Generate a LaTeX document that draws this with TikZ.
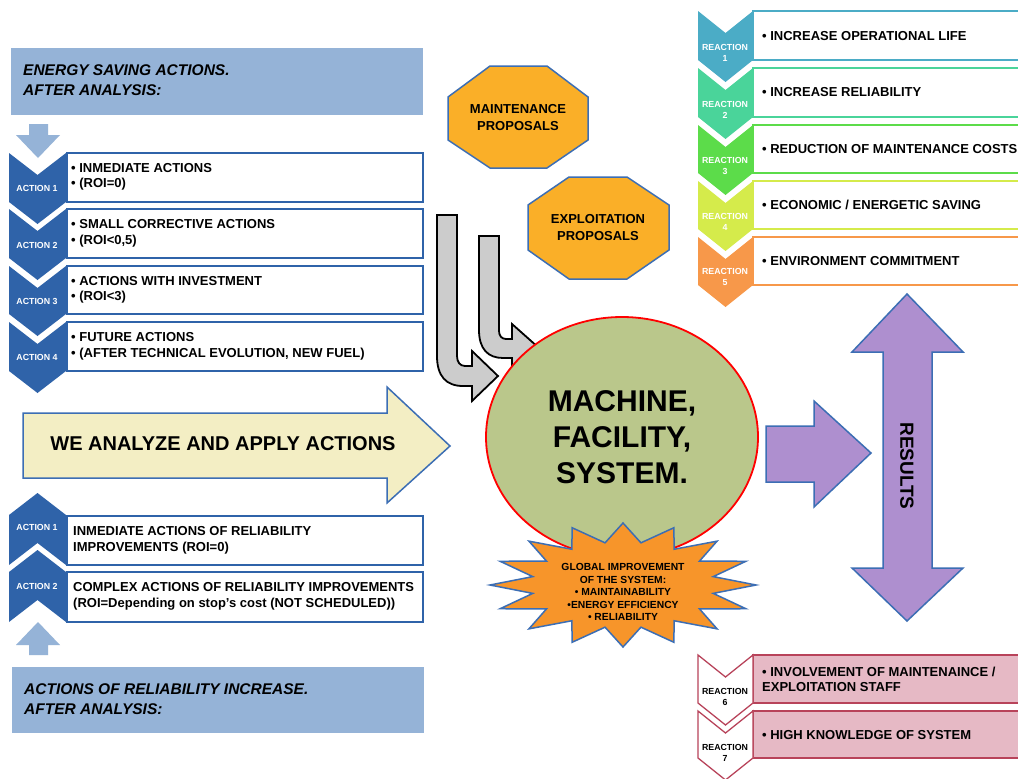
\documentclass[tikz,border=0pt]{standalone}
\usepackage{fontspec}
\setmainfont{Liberation Sans}
\usetikzlibrary{shapes.geometric}
\definecolor{hdrblue}{HTML}{95B3D7}
\definecolor{actblue}{HTML}{2F63A9}
\definecolor{lineblue}{HTML}{3C6EB4}
\definecolor{yelfill}{HTML}{F3EEC4}
\definecolor{octfill}{HTML}{FAAF28}
\definecolor{arrgray}{HTML}{CCCCCC}
\definecolor{ellfill}{HTML}{BAC78B}
\definecolor{starfill}{HTML}{F7952A}
\definecolor{purp}{HTML}{AE8FCF}
\definecolor{rca}{HTML}{4BACC6}
\definecolor{rcb}{HTML}{4AD49A}
\definecolor{rcc}{HTML}{5CDC4A}
\definecolor{rcd}{HTML}{D5EB4B}
\definecolor{rce}{HTML}{F7984A}
\definecolor{pinkfill}{HTML}{E6B9C5}
\definecolor{pinkline}{HTML}{B8435A}
\newcommand{\chevdown}[5]{\path[#1] (#2,#4) -- ({(#2+#3)/2},{#4+22}) -- (#3,#4) -- (#3,#5) -- ({(#2+#3)/2},{#5+22}) -- (#2,#5) -- cycle;}
\newcommand{\chevup}[5]{\path[#1] (#2,#4) -- ({(#2+#3)/2},{#4-22}) -- (#3,#4) -- (#3,#5) -- ({(#2+#3)/2},{#5-22}) -- (#2,#5) -- cycle;}
\begin{document}
\begin{tikzpicture}[x=1pt,y=-1pt,
  txt/.style={inner sep=0pt, font=\fontsize{13}{15.5}\selectfont\bfseries, align=left, anchor=west},
  hdrtxt/.style={inner sep=0pt, font=\fontsize{15.5}{19.5}\selectfont\bfseries\itshape, align=left, anchor=west},
  chevlbl/.style={inner sep=0pt, font=\fontsize{8.8}{11}\selectfont\bfseries, text=white, align=center},
  abox/.style={draw=actblue, line width=1.8pt, fill=white},
  octstyle/.style={draw=lineblue, line width=1.5pt, fill=octfill},
  octtxt/.style={inner sep=0pt, font=\fontsize{13}{17}\selectfont\bfseries, align=center},
  grayarr/.style={draw=black, line width=1.8pt, fill=arrgray, line join=miter},
  purpstyle/.style={draw=lineblue, line width=1.5pt, fill=purp},
  rbox/.style={line width=1.3pt, fill=white}
]
\useasboundingbox (0,0) rectangle (1018,779);
\fill[white] (0,0) rectangle (1018,779);

% ---- top left header
\fill[hdrblue] (11,48) rectangle (423,115);
\node[hdrtxt] (hdrtop) at (23,80) {ENERGY SAVING ACTIONS.\\AFTER ANALYSIS:};
\fill[hdrblue] (29,124) -- (48,124) -- (48,135) -- (60,135) -- (38,158) -- (16,135) -- (29,135) -- cycle;

% ---- action chevrons (top)
\draw[abox] (67,153) rectangle (423,202);
\draw[abox] (67,209) rectangle (423,258);
\draw[abox] (67,266) rectangle (423,314);
\draw[abox] (67,322) rectangle (423,371);
\chevdown{fill=actblue}{9}{66}{153}{202}
\chevdown{fill=actblue}{9}{66}{209}{258}
\chevdown{fill=actblue}{9}{66}{266}{314}
\chevdown{fill=actblue}{9}{66}{322}{371}
\node[chevlbl] (ca1) at (37,188) {ACTION 1};
\node[chevlbl] (ca2) at (37,245) {ACTION 2};
\node[chevlbl] (ca3) at (37,301) {ACTION 3};
\node[chevlbl] (ca4) at (37,357) {ACTION 4};
\node[txt] (ta1) at (71,177) {• INMEDIATE ACTIONS\\• (ROI=0)};
\node[txt] (ta2) at (71,233.5) {• SMALL CORRECTIVE ACTIONS\\• (ROI<0,5)};
\node[txt] (ta3) at (71,290) {• ACTIONS WITH INVESTMENT\\• (ROI<3)};
\node[txt] (ta4) at (71,346.5) {• FUTURE ACTIONS\\• (AFTER TECHNICAL EVOLUTION, NEW FUEL)};

% ---- yellow arrow
\draw[draw=lineblue, line width=1.5pt, fill=yelfill] (23,413) -- (387,413) -- (387,387) -- (450,446) -- (387,503) -- (387,478) -- (23,478) -- cycle;
\node[inner sep=0pt, font=\fontsize{20}{24}\selectfont\bfseries] (yarr) at (223,444) {WE ANALYZE AND APPLY ACTIONS};

% ---- bottom chevrons (up)
\draw[abox] (67,516) rectangle (423,565);
\draw[abox] (67,572) rectangle (423,622);
\chevup{fill=actblue}{9}{66}{515}{565}
\chevup{fill=actblue}{9}{66}{572}{622}
\node[chevlbl] (cb1) at (37,527) {ACTION 1};
\node[chevlbl] (cb2) at (37,586) {ACTION 2};
\node[txt] (tb1) at (73,540.5) {INMEDIATE ACTIONS OF RELIABILITY\\IMPROVEMENTS (ROI=0)};
\node[txt] (tb2) at (73,596.5) {COMPLEX ACTIONS OF RELIABILITY IMPROVEMENTS\\(ROI=Depending on stop’s cost (NOT SCHEDULED))};
\fill[hdrblue] (38,622) -- (60,645) -- (48,645) -- (48,655) -- (29,655) -- (29,645) -- (16,645) -- cycle;
\fill[hdrblue] (12,667) rectangle (424,733);
\node[hdrtxt] (hdrbot) at (24,699) {ACTIONS OF RELIABILITY INCREASE.\\AFTER ANALYSIS:};

% ---- octagons
\draw[octstyle] (490,66) -- (547,66) -- (588,97) -- (588,140) -- (547,168) -- (490,168) -- (448,140) -- (448,97) -- cycle;
\node[octtxt] (maint) at (518,118) {MAINTENANCE\\PROPOSALS};
\draw[octstyle] (569,177) -- (627,177) -- (669,205) -- (669,250) -- (627,279) -- (569,279) -- (528,250) -- (528,205) -- cycle;
\node[octtxt] (explo) at (598,228) {EXPLOITATION\\PROPOSALS};

% ---- gray bent arrows
\draw[grayarr] (437,215) -- (437,356) .. controls (437,376) and (446,386) .. (463,386) -- (472,386) -- (472,401) -- (498,376) -- (472,351) -- (472,366) -- (465,366) .. controls (460,366) and (457,362) .. (457,356) -- (457,215) -- cycle;
\draw[grayarr] (479,236) -- (479,330) .. controls (479,349) and (488,358) .. (503,358) -- (512,358) -- (512,373) -- (539,348) -- (512,324) -- (512,339) -- (506,339) .. controls (502,339) and (499,336) .. (499,331) -- (499,236) -- cycle;

% ---- machine ellipse
\node[ellipse, draw=red, line width=1.8pt, fill=ellfill, minimum width=272pt, minimum height=240pt, inner sep=0pt,
  font=\fontsize{30}{36}\selectfont\bfseries, align=center] (mach) at (622,437) {MACHINE,\\FACILITY,\\SYSTEM.};

% ---- star
\draw[draw=lineblue, line width=1.5pt, fill=starfill, line join=miter]
  (756,585) \foreach \i in {1,...,31} { -- ({623+(mod(\i,2)==0 ? 133 : 92)*cos(\i*11.25)}, {585+(mod(\i,2)==0 ? 62 : 43)*sin(\i*11.25)}) } -- cycle;
\node[inner sep=0pt, font=\fontsize{10.3}{12.5}\selectfont\bfseries, align=center] (glob) at (623,592)
  {GLOBAL IMPROVEMENT\\OF THE SYSTEM:\\• MAINTAINABILITY\\•ENERGY EFFICIENCY\\• RELIABILITY};

% ---- purple arrows
\draw[purpstyle] (766,426) -- (814,426) -- (814,401) -- (871,453) -- (814,507) -- (814,482) -- (766,482) -- cycle;
\draw[purpstyle] (907,294) -- (963,352) -- (932,352) -- (932,568) -- (963,568) -- (907,621) -- (852,568) -- (883,568) -- (883,352) -- (852,352) -- cycle;
\node[rotate=-90, inner sep=0pt, font=\fontsize{19}{19}\selectfont\bfseries] (res) at (907,466) {RESULTS};

% ---- reactions 1-5
\draw[rbox, draw=rca] (753,11) rectangle (1030,60);
\draw[rbox, draw=rcb] (753,68) rectangle (1030,117);
\draw[rbox, draw=rcc] (753,125) rectangle (1030,173);
\draw[rbox, draw=rcd] (753,181) rectangle (1030,229);
\draw[rbox, draw=rce] (753,237) rectangle (1030,285);
\chevdown{fill=rca}{698}{753}{11}{60}
\chevdown{fill=rcb}{698}{753}{68}{117}
\chevdown{fill=rcc}{698}{753}{125}{173}
\chevdown{fill=rcd}{698}{753}{181}{229}
\chevdown{fill=rce}{698}{753}{237}{285}
\node[chevlbl] (r1) at (725,53) {REACTION\\1};
\node[chevlbl] (r2) at (725,110) {REACTION\\2};
\node[chevlbl] (r3) at (725,166) {REACTION\\3};
\node[chevlbl] (r4) at (725,222) {REACTION\\4};
\node[chevlbl] (r5) at (725,277) {REACTION\\5};
\node[txt] (tr1) at (762,36) {• INCREASE OPERATIONAL LIFE};
\node[txt] (tr2) at (762,92.5) {• INCREASE RELIABILITY};
\node[txt] (tr3) at (762,149) {• REDUCTION OF MAINTENANCE COSTS};
\node[txt] (tr4) at (762,205) {• ECONOMIC / ENERGETIC SAVING};
\node[txt] (tr5) at (762,261) {• ENVIRONMENT COMMITMENT};

% ---- reactions 6-7
\draw[line width=1.3pt, draw=pinkline, fill=pinkfill] (753,655) rectangle (1030,703);
\draw[line width=1.3pt, draw=pinkline, fill=pinkfill] (753,711) rectangle (1030,758);
\chevdown{draw=pinkline, line width=1.3pt, fill=white}{698}{753}{655}{703}
\chevdown{draw=pinkline, line width=1.3pt, fill=white}{698}{753}{711}{758}
\node[chevlbl, text=black] (r6) at (725,697) {REACTION\\6};
\node[chevlbl, text=black] (r7) at (725,753) {REACTION\\7};
\node[txt] (tr6) at (762,679.5) {• INVOLVEMENT OF MAINTENAINCE /\\EXPLOITATION STAFF};
\node[txt] (tr7) at (762,735) {• HIGH KNOWLEDGE OF SYSTEM};
\end{tikzpicture}
\end{document}
